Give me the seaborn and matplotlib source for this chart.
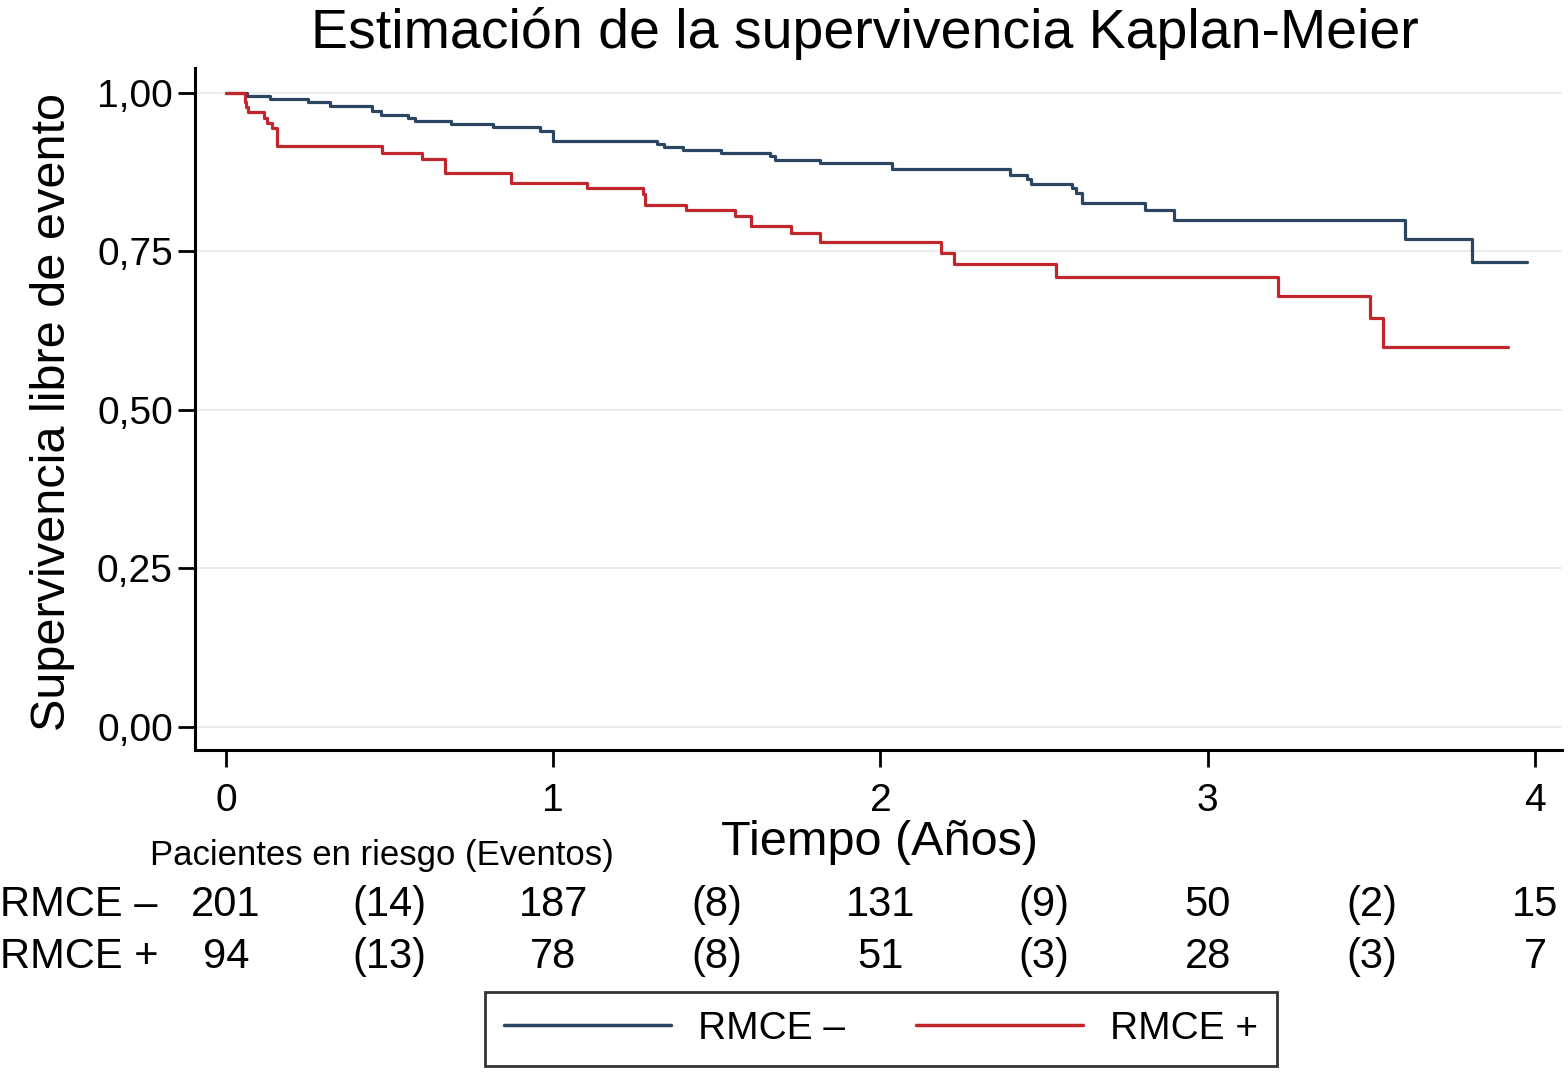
import matplotlib
matplotlib.use("Agg")
import matplotlib.pyplot as plt
from matplotlib import font_manager
import seaborn as sns
import pandas as pd

# Kaplan-Meier step points (years, survival)
neg_time = [0.0, 0.063, 0.134, 0.252, 0.318, 0.445, 0.474, 0.555, 0.579, 0.688, 0.815,
            0.961, 0.998, 1.318, 1.339, 1.395, 1.514, 1.663, 1.677, 1.814, 2.035, 2.396,
            2.447, 2.459, 2.584, 2.597, 2.615, 2.808, 2.897, 3.604, 3.809, 3.975]
neg_surv = [1.0, 0.995, 0.990, 0.985, 0.980, 0.971, 0.966, 0.960, 0.956, 0.951, 0.946,
            0.940, 0.925, 0.920, 0.915, 0.910, 0.905, 0.900, 0.894, 0.889, 0.880, 0.871,
            0.865, 0.856, 0.850, 0.842, 0.826, 0.815, 0.800, 0.770, 0.734, 0.734]

pos_time = [0.0, 0.058, 0.062, 0.066, 0.115, 0.125, 0.140, 0.155, 0.476, 0.599, 0.670,
            0.872, 1.104, 1.274, 1.280, 1.407, 1.554, 1.605, 1.725, 1.814, 2.186, 2.226,
            2.537, 3.216, 3.496, 3.536, 3.917]
pos_surv = [1.0, 0.986, 0.978, 0.970, 0.960, 0.952, 0.944, 0.916, 0.906, 0.896, 0.874,
            0.858, 0.850, 0.841, 0.824, 0.815, 0.806, 0.790, 0.779, 0.765, 0.748, 0.730,
            0.710, 0.680, 0.645, 0.599, 0.599]

# number at risk table
risk_x = [0, 0.5, 1, 1.5, 2, 2.5, 3, 3.5, 4]
risk_neg = ["201", "(14)", "187", "(8)", "131", "(9)", "50", "(2)", "15"]
risk_pos = ["94", "(13)", "78", "(8)", "51", "(3)", "28", "(3)", "7"]

y_ticks = [0, 0.25, 0.5, 0.75, 1.0]
y_ticklabels = ["0,00", "0,25", "0,50", "0,75", "1,00"]
x_ticks = [0, 1, 2, 3, 4]

blue = "#2b4660"
red = "#c2262d"

sns.set_theme(style="white")
installed = {f.name for f in font_manager.fontManager.ttflist}
fams = [f for f in ["Liberation Sans", "DejaVu Sans"] if f in installed]
plt.rcParams["font.family"] = fams
for key in ["text.color", "axes.labelcolor", "xtick.color", "ytick.color"]:
    plt.rcParams[key] = "black"

df = pd.concat([
    pd.DataFrame({"t": neg_time, "s": neg_surv, "grupo": "RMCE \u2013"}),
    pd.DataFrame({"t": pos_time, "s": pos_surv, "grupo": "RMCE +"}),
])

fig = plt.figure(figsize=(15.68, 10.75), dpi=100)
ax = fig.add_axes([195 / 1568, 1 - 750 / 1075, 1367 / 1568, 682 / 1075])

sns.lineplot(data=df, x="t", y="s", hue="grupo", palette=[blue, red],
             drawstyle="steps-post", linewidth=2.3, estimator=None, ax=ax, legend=True)

ax.set_xlim(-0.0947, 4.0825)
ax.set_ylim(-0.0363, 1.0394)
ax.set_yticks(y_ticks)
ax.set_yticklabels(y_ticklabels)
ax.set_xticks(x_ticks)
for y in y_ticks:
    ax.axhline(y, color="#ececec", lw=1.5, zorder=0)

ax.tick_params(axis="both", which="major", labelsize=28, length=12, width=2,
               color="black", left=True, bottom=True, direction="out")
ax.tick_params(axis="y", pad=4)
ax.tick_params(axis="x", pad=12)
for side in ["top", "right"]:
    ax.spines[side].set_visible(False)
for side in ["left", "bottom"]:
    ax.spines[side].set_color("black")
    ax.spines[side].set_linewidth(2.2)

ax.set_ylabel("Supervivencia libre de evento", fontsize=35)
ax.yaxis.set_label_coords(-0.088, 0.496)
ax.set_xlabel("")

fig.text(865 / 1568, 1 - 33 / 1075, "Estimaci\u00f3n de la supervivencia Kaplan-Meier",
         fontsize=40, ha="center", va="center")
fig.text(880 / 1568, 1 - 855 / 1075, "Tiempo (A\u00f1os)", fontsize=35,
         ha="center", va="baseline")
fig.text(150 / 1568, 1 - 855 / 1075, "Pacientes en riesgo (Eventos)", fontsize=25,
         ha="left", va="center")

fig.text(0.0, 1 - 905 / 1075, "RMCE \u2013", fontsize=30, ha="left", va="center")
fig.text(0.0, 1 - 957 / 1075, "RMCE +", fontsize=30, ha="left", va="center")
for xv, a, b in zip(risk_x, risk_neg, risk_pos):
    ax.annotate(a, xy=(xv, 1 - 905 / 1075), xycoords=("data", "figure fraction"),
                fontsize=30, ha="center", va="center", annotation_clip=False)
    ax.annotate(b, xy=(xv, 1 - 957 / 1075), xycoords=("data", "figure fraction"),
                fontsize=30, ha="center", va="center", annotation_clip=False)

leg = ax.legend(loc="center", bbox_to_anchor=(881 / 1568, 1 - 1029 / 1075),
                bbox_transform=fig.transFigure, ncol=2, fontsize=28, frameon=True,
                fancybox=False, handlelength=4.3, handletextpad=0.7, columnspacing=1.8,
                borderpad=0.5, title=None)
leg.get_frame().set_edgecolor("black")
leg.get_frame().set_linewidth(2)
for ln in leg.get_lines():
    ln.set_linewidth(2.5)

fig.savefig("out.png", dpi=100)
